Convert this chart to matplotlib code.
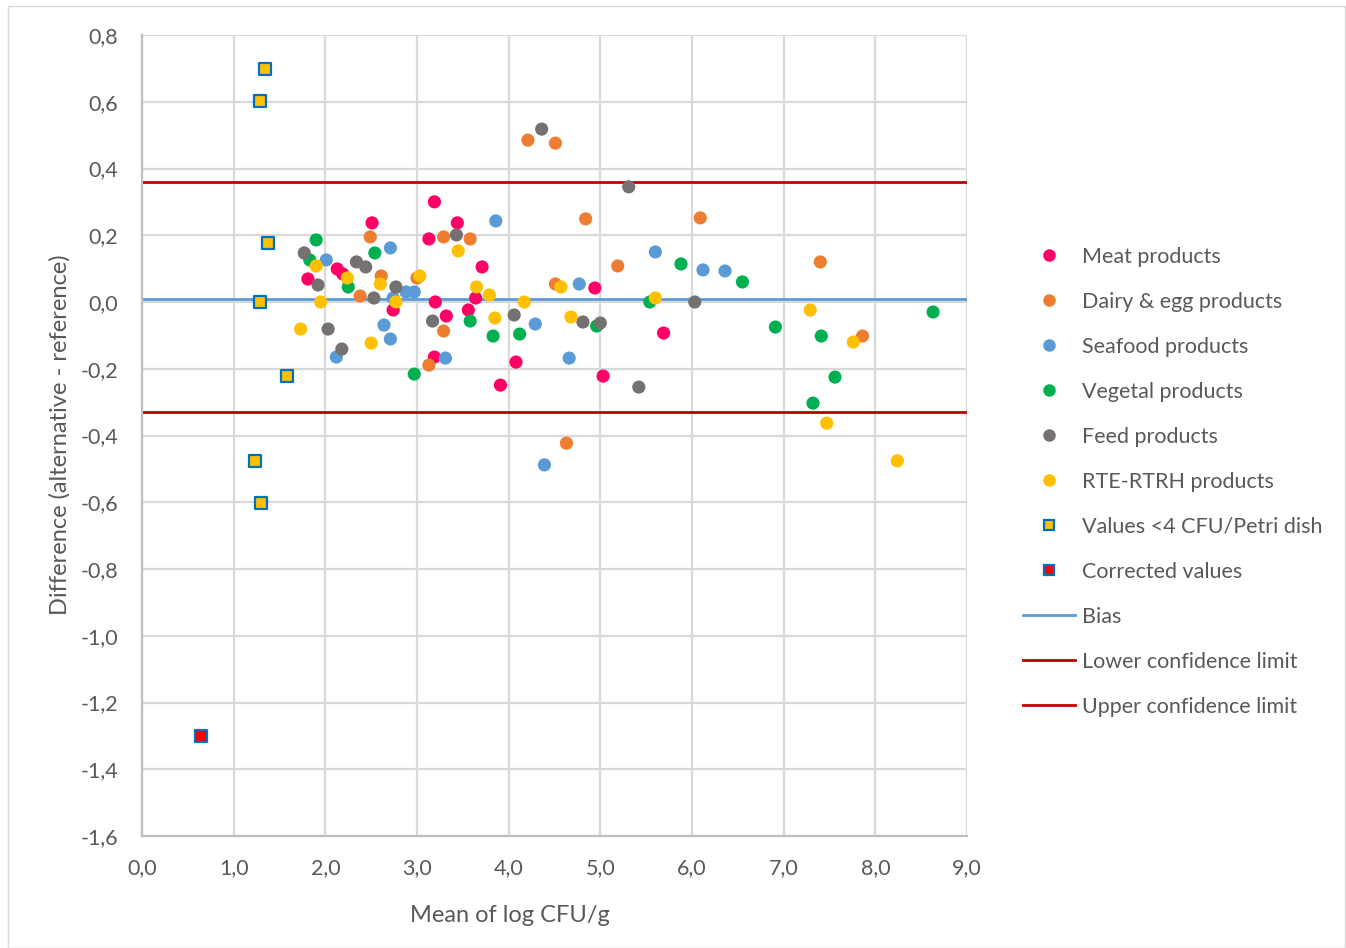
import matplotlib
matplotlib.use("Agg")
import matplotlib.pyplot as plt
from matplotlib.lines import Line2D
from matplotlib.patches import Rectangle

plt.rcParams['font.family'] = ['Lato', 'DejaVu Sans']

# ---- data ----
meat_x = [3.19, 2.51, 3.44, 3.13, 2.13, 2.19, 1.81, 3.20, 2.74, 3.32, 3.56, 3.64, 3.71, 3.19, 4.08, 3.91, 4.94, 5.69, 5.03]
meat_y = [0.300, 0.237, 0.237, 0.189, 0.099, 0.084, 0.069, 0.000, -0.024, -0.042, -0.024, 0.012, 0.105, -0.165, -0.180, -0.249, 0.042, -0.093, -0.222]

dairy_x = [2.49, 3.29, 3.58, 2.61, 3.00, 2.38, 3.29, 3.13, 4.21, 4.51, 4.84, 5.19, 4.51, 6.09, 7.40, 7.86, 4.63]
dairy_y = [0.195, 0.195, 0.189, 0.078, 0.072, 0.018, -0.087, -0.189, 0.485, 0.476, 0.249, 0.108, 0.054, 0.252, 0.120, -0.102, -0.423]

sea_x = [2.01, 2.71, 2.64, 2.71, 2.12, 3.31, 2.88, 2.97, 2.74, 3.86, 4.29, 4.66, 4.77, 5.60, 6.12, 6.36, 4.39]
sea_y = [0.126, 0.162, -0.069, -0.111, -0.165, -0.168, 0.030, 0.030, 0.012, 0.243, -0.066, -0.168, 0.054, 0.150, 0.096, 0.093, -0.488]

veg_x = [1.90, 1.83, 2.25, 2.54, 2.97, 3.58, 3.83, 4.12, 4.96, 5.54, 5.88, 6.55, 6.91, 7.41, 7.56, 7.32, 8.63]
veg_y = [0.186, 0.126, 0.045, 0.147, -0.216, -0.057, -0.102, -0.096, -0.072, 0.000, 0.114, 0.060, -0.075, -0.102, -0.225, -0.303, -0.030]

feed_x = [1.77, 1.92, 2.03, 2.18, 2.34, 2.44, 2.53, 2.77, 3.17, 3.43, 4.36, 5.31, 4.06, 4.81, 5.00, 6.03, 5.42]
feed_y = [0.147, 0.051, -0.081, -0.141, 0.120, 0.105, 0.012, 0.045, -0.057, 0.201, 0.518, 0.345, -0.039, -0.060, -0.063, 0.000, -0.255]

rte_x = [1.90, 2.24, 2.60, 3.03, 1.95, 1.73, 2.50, 2.77, 3.45, 3.65, 3.79, 4.17, 3.85, 4.57, 4.68, 5.60, 7.29, 7.76, 7.47, 8.24]
rte_y = [0.108, 0.072, 0.054, 0.078, 0.000, -0.081, -0.123, 0.000, 0.153, 0.045, 0.021, 0.000, -0.048, 0.045, -0.045, 0.012, -0.024, -0.120, -0.363, -0.476]

low_x = [1.34, 1.29, 1.37, 1.29, 1.58, 1.23, 1.30]
low_y = [0.698, 0.602, 0.177, 0.000, -0.222, -0.476, -0.602]

corr_x = [0.64]
corr_y = [-1.30]

bias = 0.01
lower_limit = -0.33
upper_limit = 0.36

series = [
    ("Meat products", meat_x, meat_y, "#FF0066"),
    ("Dairy & egg products", dairy_x, dairy_y, "#ED7D31"),
    ("Seafood products", sea_x, sea_y, "#5B9BD5"),
    ("Vegetal products", veg_x, veg_y, "#00B050"),
    ("Feed products", feed_x, feed_y, "#767171"),
    ("RTE-RTRH products", rte_x, rte_y, "#FFC000"),
]

xticks = [0, 1, 2, 3, 4, 5, 6, 7, 8, 9]
yticks = [0.8, 0.6, 0.4, 0.2, 0.0, -0.2, -0.4, -0.6, -0.8, -1.0, -1.2, -1.4, -1.6]

TXT = "#595959"
GRID = "#D9D9D9"

fig = plt.figure(figsize=(13.46, 9.48), dpi=100)
fig.patches.append(Rectangle((8/1346, 0.0), 1 - 8/1346 - 0.0005, 1 - 6/948, transform=fig.transFigure,
                             fill=False, edgecolor="#D9D9D9", linewidth=1.0))
ax = fig.add_axes([142/1346, 1 - 836/948, (967 - 142)/1346, (836 - 35)/948])

ax.set_xlim(0, 9)
ax.set_ylim(-1.6, 0.8)
ax.set_xticks(xticks)
ax.set_yticks(yticks)
ax.set_xticklabels([f"{v:.1f}".replace(".", ",") for v in xticks])
ax.set_yticklabels([f"{v:.1f}".replace(".", ",").replace("-0,0", "0,0") for v in yticks])
ax.grid(True, color=GRID, linewidth=1.6)
ax.set_axisbelow(True)
for s in ["top", "right"]:
    ax.spines[s].set_visible(False)
for s in ["left", "bottom"]:
    ax.spines[s].set_color("#BFBFBF")
    ax.spines[s].set_linewidth(1.6)
ax.tick_params(axis="both", length=0, labelsize=15.5, labelcolor=TXT)
ax.tick_params(axis="y", pad=17)
ax.tick_params(axis="x", pad=16)

ax.set_xlabel("Mean of log CFU/g", fontsize=17, color=TXT, va="center")
ax.set_ylabel("Difference (alternative - reference)", fontsize=17, color=TXT, va="center")
ax.xaxis.set_label_coords((510 - 142) / 825, (836 - 915) / 801)
ax.yaxis.set_label_coords((60 - 142) / 825, (836 - 435) / 801)

handles = []
for name, xs, ys, c in series:
    ax.scatter(xs, ys, s=90, color=c, edgecolors="none", zorder=3)
    handles.append(Line2D([], [], linestyle="none", marker="o", markersize=8, color=c, label=name))

ax.scatter(low_x, low_y, s=80, marker="s", facecolor="#FFC000", edgecolors="#0070C0", linewidths=1.6, zorder=4)
handles.append(Line2D([], [], linestyle="none", marker="s", markersize=7.5, markerfacecolor="#FFC000",
                      markeredgecolor="#0070C0", markeredgewidth=1.6, label="Values <4 CFU/Petri dish"))
ax.scatter(corr_x, corr_y, s=80, marker="s", facecolor="#FF0000", edgecolors="#0070C0", linewidths=1.6, zorder=4)
handles.append(Line2D([], [], linestyle="none", marker="s", markersize=7.5, markerfacecolor="#FF0000",
                      markeredgecolor="#0070C0", markeredgewidth=1.6, label="Corrected values"))

ax.axhline(bias, color="#5B9BD5", linewidth=2, zorder=2)
ax.axhline(lower_limit, color="#C00000", linewidth=2, zorder=2)
ax.axhline(upper_limit, color="#C00000", linewidth=2, zorder=2)
handles.append(Line2D([], [], color="#5B9BD5", linewidth=2, label="Bias"))
handles.append(Line2D([], [], color="#C00000", linewidth=2, label="Lower confidence limit"))
handles.append(Line2D([], [], color="#C00000", linewidth=2, label="Upper confidence limit"))

leg = fig.legend(handles=handles, loc="upper left", bbox_to_anchor=(1023/1346, 1 - 247/948),
                 frameon=False, fontsize=15.5, labelspacing=1.16, handlelength=2.42, handletextpad=0.32,
                 borderaxespad=0, borderpad=0)
for t in leg.get_texts():
    t.set_color(TXT)

fig.savefig("out.png", dpi=100)
